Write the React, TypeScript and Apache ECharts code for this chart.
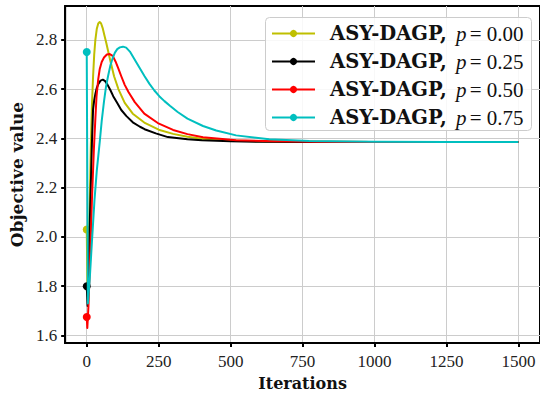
import React, { useEffect, useRef } from "react";
import * as echarts from "echarts";

const xTicks = [0, 250, 500, 750, 1000, 1250, 1500];
const yTicks = [1.6, 1.8, 2.0, 2.2, 2.4, 2.6, 2.8];
const pValues = ["0.00", "0.25", "0.50", "0.75"];
const colors = ["#bfbf00", "#000000", "#ff0000", "#00bfbf"];

const xP00 = [0, 3, 8, 14, 18, 22, 26, 30, 35, 40, 45, 50, 56, 62, 68, 75, 82, 95, 110, 132, 160, 200, 250, 300, 350, 400, 500, 600, 750, 1000, 1250, 1500];
const yP00 = [2.03, 1.76, 1.98, 2.36, 2.53, 2.65, 2.74, 2.8, 2.845, 2.866, 2.872, 2.866, 2.845, 2.815, 2.787, 2.75, 2.715, 2.652, 2.6, 2.544, 2.5, 2.464, 2.435, 2.418, 2.406, 2.398, 2.391, 2.388, 2.386, 2.385, 2.385, 2.385];

const xP25 = [0, 3, 8, 14, 18, 22, 26, 30, 35, 40, 48, 56, 64, 72, 82, 92, 105, 120, 138, 160, 185, 201, 240, 282, 350, 400, 500, 600, 750, 1000, 1250, 1500];
const yP25 = [1.8, 1.72, 1.95, 2.2, 2.38, 2.517, 2.555, 2.58, 2.605, 2.62, 2.634, 2.638, 2.632, 2.618, 2.596, 2.571, 2.545, 2.515, 2.49, 2.465, 2.447, 2.437, 2.42, 2.405, 2.396, 2.392, 2.388, 2.386, 2.385, 2.385, 2.385, 2.385];

const xP50 = [0, 2, 6, 12, 18, 25, 30, 34, 40, 45, 52, 60, 70, 80, 90, 100, 110, 120, 132, 145, 167, 200, 247, 300, 350, 404, 519, 650, 800, 1000, 1250, 1500];
const yP50 = [1.675, 1.63, 1.72, 1.92, 2.15, 2.36, 2.48, 2.57, 2.64, 2.68, 2.71, 2.728, 2.74, 2.742, 2.735, 2.712, 2.683, 2.652, 2.617, 2.588, 2.547, 2.5, 2.462, 2.434, 2.417, 2.404, 2.392, 2.388, 2.386, 2.385, 2.385, 2.385];

const xP75 = [0, 4, 10, 18, 27, 35, 45, 52, 60, 67, 74, 82, 90, 98, 106, 115, 126, 137, 150, 170, 201, 218, 235, 252, 270, 289, 316, 350, 404, 450, 519, 634, 773, 1000, 1250, 1500];
const yP75 = [2.75, 1.73, 1.82, 1.98, 2.15, 2.27, 2.383, 2.47, 2.55, 2.61, 2.652, 2.695, 2.725, 2.748, 2.762, 2.769, 2.772, 2.768, 2.752, 2.713, 2.652, 2.621, 2.594, 2.571, 2.551, 2.532, 2.507, 2.48, 2.45, 2.432, 2.412, 2.396, 2.389, 2.386, 2.385, 2.385];

const seriesX = [xP00, xP25, xP50, xP75];
const seriesY = [yP00, yP25, yP50, yP75];

export default function App() {
  const ref = useRef<HTMLDivElement>(null);
  useEffect(() => {
    document.body.style.margin = "0";
    const chart = echarts.init(ref.current!, null, { renderer: "svg" });
    const names = pValues.map((p) => `ASY-DAGP, p = ${p}`);
    const series = seriesX.map((xs, i) => ({
      name: names[i],
      type: "line",
      color: colors[i],
      symbol: "circle",
      symbolSize: 8,
      showAllSymbol: true,
      smooth: false,
      lineStyle: { width: 2, color: colors[i], join: "round" },
      itemStyle: { color: colors[i] },
      emphasis: { disabled: true },
      data: xs.map((x, j) =>
        j === 0 ? { value: [x, seriesY[i][j]] } : { value: [x, seriesY[i][j]], symbol: "none" }
      ),
      z: 2 + i,
    }));
    const tickFont = { fontFamily: "Liberation Serif", fontSize: 17, color: "#222" };
    chart.setOption({
      animation: false,
      grid: {
        left: 64.5,
        right: -2,
        top: 6,
        bottom: 51,
        show: true,
        borderColor: "#000",
        borderWidth: 2,
        backgroundColor: "transparent",
      },
      xAxis: {
        type: "value",
        min: -75,
        max: 1575,
        name: "Iterations",
        nameLocation: "middle",
        nameGap: 31,
        nameTextStyle: { fontFamily: "DejaVu Serif", fontWeight: "bold", fontSize: 16, color: "#111" },
        axisLine: { show: true, onZero: false, lineStyle: { color: "#000", width: 2 } },
        axisTick: { show: true, inside: false, length: 4, customValues: xTicks, lineStyle: { color: "#000", width: 2 } },
        axisLabel: { ...tickFont, margin: 10, customValues: xTicks, formatter: (v: number) => String(v) },
        splitLine: { show: true, lineStyle: { color: "#cccccc", width: 1 } },
      },
      yAxis: {
        type: "value",
        min: 1.569,
        max: 2.937,
        name: "Objective value",
        nameLocation: "middle",
        nameGap: 27,
        nameTextStyle: { fontFamily: "DejaVu Serif", fontWeight: "bold", fontSize: 17, color: "#111" },
        axisLine: { show: true, onZero: false, lineStyle: { color: "#000", width: 2 } },
        axisTick: { show: true, inside: false, length: 4, customValues: yTicks, lineStyle: { color: "#000", width: 2 } },
        axisLabel: { ...tickFont, margin: 8, customValues: yTicks, formatter: (v: number) => v.toFixed(1) },
        splitLine: { show: true, lineStyle: { color: "#cccccc", width: 1 } },
      },
      legend: {
        orient: "vertical",
        left: 271,
        top: 23,
        padding: 0,
        itemWidth: 43,
        itemHeight: 9,
        itemGap: 7,
        z: 20,
        data: names,
        formatter: (name: string) => {
          const p = name.split("= ")[1];
          return `{sp|}{b|ASY-DAGP,}{sp2|}{i|p} {n|= ${p}}`;
        },
        textStyle: {
          lineHeight: 20,
          rich: {
            sp: { width: 10 },
            sp2: { width: 9 },
            b: { fontFamily: "DejaVu Serif", fontWeight: "bold", fontSize: 19.5, color: "#111", lineHeight: 20 },
            i: { fontFamily: "Liberation Serif", fontStyle: "italic", fontSize: 21, color: "#111", lineHeight: 20 },
            n: { fontFamily: "Liberation Serif", fontSize: 21, color: "#111", lineHeight: 20 },
          },
        },
      },
      graphic: [
        {
          type: "rect",
          z: 15,
          shape: { x: 265.5, y: 17.5, width: 266, height: 113, r: 4 },
          style: { fill: "rgba(255,255,255,0.85)", stroke: "#cccccc", lineWidth: 1 },
        },
      ],
      series,
    });
    return () => chart.dispose();
  }, []);
  return <div ref={ref} style={{ width: 540, height: 396 }} />;
}
